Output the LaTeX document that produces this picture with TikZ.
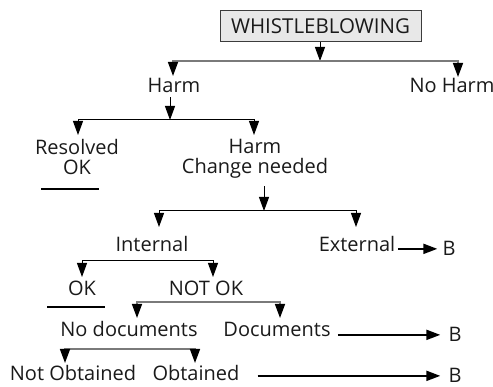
\documentclass[tikz,border=0pt]{standalone}
\usepackage{fontspec}
\setmainfont{Open Sans}
\usetikzlibrary{arrows.meta}
\definecolor{ink}{HTML}{1A1A1A}
\definecolor{rulegray}{HTML}{7A7A7A}
\definecolor{boxfill}{HTML}{E8E8E8}

\begin{document}
\begin{tikzpicture}[x=1pt,y=-1pt,
  lbl/.style={inner sep=0pt, anchor=base, text=ink, font=\fontsize{20}{20}\selectfont},
  twoline/.style={lbl, align=center},
  tip/.style={-{Triangle[width=10pt,length=14pt,color=black]}},
  blk/.style={draw=black, line width=1pt},
  gry/.style={draw=rulegray, line width=1.4pt},
  toB/.style={draw=black, line width=2pt, -{Triangle[width=10pt,length=14pt]}},
  bar/.style={draw=black, line width=2.4pt}]

\useasboundingbox (0,0) rectangle (493,387);

% root box
\node[draw=ink!85, fill=boxfill, line width=1pt, minimum width=201pt,
      minimum height=31pt, inner sep=0pt, text=ink,
      font=\fontsize{20.5}{20}\selectfont] (root) at (320.5,26.5) {WHISTLEBLOWING};

% labels
\node[lbl] (harm)     at (174,93)  {Harm};
\node[lbl] (noharm)   at (452,93)  {No Harm};
\node[twoline, anchor=north] (resolved) at (77,139) {Resolved\\OK};
\node[twoline, anchor=north] (change)   at (255,139) {Harm\\Change needed};
\node[lbl] (internal) at (152,252) {Internal};
\node[lbl] (external) at (357,252) {External};
\node[lbl] (ok)       at (82,296)  {OK};
\node[lbl] (notok)    at (206,296) {NOT OK};
\node[lbl] (nodocs)   at (129,337) {No documents};
\node[lbl] (docs)     at (277,337) {Documents};
\node[lbl] (notobt)   at (73,381)  {Not Obtained};
\node[lbl] (obt)      at (196,381) {Obtained};
\node[lbl] (b1)       at (449,256) {B};
\node[lbl] (b2)       at (455,342) {B};
\node[lbl] (b3)       at (455,383) {B};

% junctions and arrow tips
\coordinate (j0) at (320,61);
\coordinate (tHarm) at (173,76);
\coordinate (tNoHarm) at (458,77);
\coordinate (j1) at (170,120);
\coordinate (tRes) at (78,135);
\coordinate (tChange) at (254,135);
\coordinate (j2) at (264,211);
\coordinate (tInt) at (159,227);
\coordinate (tExt) at (356,227);
\coordinate (j3) at (152,261);
\coordinate (tOK) at (82,277);
\coordinate (tNotOK) at (213,277);
\coordinate (j4) at (206,302);
\coordinate (tNoDocs) at (137,318);
\coordinate (tDocs) at (280,318);
\coordinate (j5) at (129,349);
\coordinate (tNotObt) at (65,363);
\coordinate (tObt) at (195,363);

% root split
\draw[blk, tip] (root.south -| j0) -- (j0);
\draw[gry, tip] (j0) -| (tHarm);
\draw[gry, tip] (j0) -| (tNoHarm);

% harm split
\draw[blk, tip] (harm.south -| j1) ++(0,4) -- (j1);
\draw[blk, tip] (j1) -| (tRes);
\draw[blk, tip] (j1) -| (tChange);
\draw[bar] (41,189) -- (99,189);

% change needed split
\draw[blk, tip] (change.south -| j2) ++(0,8) -- (j2);
\draw[blk, tip] (j2) -| (tInt);
\draw[blk, tip] (j2) -| (tExt);
\draw[toB, shorten <=3pt, shorten >=5pt] (external.east |- b1.west) -- (b1.west);

% internal split
\draw[blk, tip] (j3) -| (tOK);
\draw[blk, tip] (j3) -| (tNotOK);
\draw[bar] (47,307) -- (105,307);

% not ok split
\draw[gry, tip] (j4) -| (tNoDocs);
\draw[gry, tip] (j4) -| (tDocs);
\draw[toB, shorten <=7pt, shorten >=8pt] (docs.east |- b2.west) -- (b2.west);

% no documents split
\draw[gry, tip] (j5) -| (tNotObt);
\draw[gry, tip] (j5) -| (tObt);
\draw[toB, shorten <=18pt, shorten >=8pt] (obt.east |- b3.west) -- (b3.west);
\end{tikzpicture}
\end{document}
